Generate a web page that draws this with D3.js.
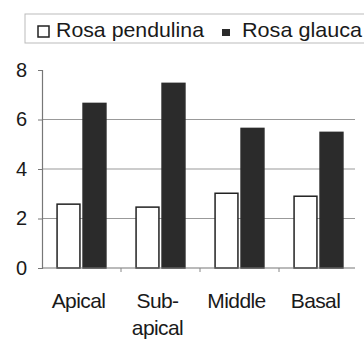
<!DOCTYPE html>
<html><head><meta charset="utf-8">
<script src="https://cdn.jsdelivr.net/npm/d3@7"></script>
<style>body{margin:0;background:#fff}svg{display:block}</style>
</head><body>
<svg id="c" width="364" height="343"></svg>
<script>
const categories = ["Apical", "Sub-\napical", "Middle", "Basal"];
const seriesNames = ["Rosa pendulina", "Rosa glauca"];
const pendulina = [2.58, 2.46, 3.02, 2.9];
const glauca = [6.65, 7.46, 5.64, 5.48];
const yTicks = [0, 2, 4, 6, 8];

(function () {
const svg = d3.select("#c");
const font = "'Liberation Sans', Arial, sans-serif";
const ink = "#1a1a1a";
const mLeft = 42, mRight = 358, mTop = 70, mBottom = 268;

const x = d3.scaleBand().domain(d3.range(categories.length)).range([mLeft, mRight]).paddingInner(0).paddingOuter(0);
const xs = d3.scaleBand().domain([0, 1]).range([0, x.bandwidth()]).paddingInner(0.12).paddingOuter(0.58);
const y = d3.scaleLinear().domain([0, 8]).range([mBottom, mTop]);

// gridlines
svg.append("g").selectAll("line").data(yTicks.filter(t => t > 0 && t < 8)).join("line")
  .attr("x1", mLeft).attr("x2", 355).attr("y1", d => y(d)).attr("y2", d => y(d))
  .attr("stroke", "#999").attr("stroke-width", 1.2);

// y axis
const ya = svg.append("g").attr("transform", `translate(${mLeft},0)`)
  .call(d3.axisLeft(y).tickValues(yTicks).tickSize(4).tickPadding(11).tickFormat(d3.format("d")));
ya.select(".domain").attr("stroke", "#777").attr("stroke-width", 1.2);
ya.selectAll(".tick line").attr("stroke", "#777");
ya.selectAll("text").attr("font-family", font).attr("font-size", 20).attr("fill", ink);

// bars
const data = categories.map((c, i) => [pendulina[i], glauca[i]]);
const g = svg.append("g").selectAll("g").data(data).join("g")
  .attr("transform", (d, i) => `translate(${x(i)},0)`);
g.selectAll("rect").data(d => d).join("rect")
  .attr("x", (d, j) => xs(j)).attr("width", xs.bandwidth())
  .attr("y", d => y(d)).attr("height", d => y(0) - y(d))
  .attr("fill", (d, j) => j === 0 ? "#fff" : "#2b2b2b")
  .attr("stroke", (d, j) => j === 0 ? "#222" : "#2b2b2b").attr("stroke-width", 1.5);

// x axis
svg.append("line").attr("x1", mLeft).attr("x2", 355).attr("y1", mBottom).attr("y2", mBottom)
  .attr("stroke", "#777").attr("stroke-width", 1.2);
svg.append("g").selectAll("line").data(d3.range(1, categories.length)).join("line")
  .attr("x1", i => x(i)).attr("x2", i => x(i)).attr("y1", mBottom).attr("y2", mBottom + 4)
  .attr("stroke", "#888");
svg.append("g").selectAll("text").data(categories).join("text")
  .attr("font-family", font).attr("font-size", 21).attr("fill", ink)
  .attr("text-anchor", "middle").attr("letter-spacing", -0.6)
  .each(function(d, i) {
    const lines = d.split("\n");
    d3.select(this).selectAll("tspan").data(lines).join("tspan")
      .attr("x", x(i) + x.bandwidth() / 2 - 3).attr("y", (l, k) => 308 + k * 27).text(l => l);
  });

// legend
const lg = svg.append("g");
lg.append("rect").attr("x", 25).attr("y", 14).attr("width", 345).attr("height", 29)
  .attr("fill", "none").attr("stroke", "#bbb").attr("stroke-width", 1);
lg.append("rect").attr("x", 38).attr("y", 26).attr("width", 11).attr("height", 11)
  .attr("fill", "#fff").attr("stroke", "#222").attr("stroke-width", 1.5);
lg.append("text").attr("x", 56).attr("y", 37).attr("font-family", font).attr("font-size", 21)
  .attr("fill", ink).attr("textLength", 148).attr("lengthAdjust", "spacingAndGlyphs").text(seriesNames[0]);
lg.append("rect").attr("x", 222).attr("y", 29).attr("width", 8).attr("height", 7).attr("fill", "#2b2b2b");
lg.append("text").attr("x", 242).attr("y", 37).attr("font-family", font).attr("font-size", 21)
  .attr("fill", ink).attr("textLength", 120).attr("lengthAdjust", "spacingAndGlyphs").text(seriesNames[1]);
})();
</script>
</body></html>
